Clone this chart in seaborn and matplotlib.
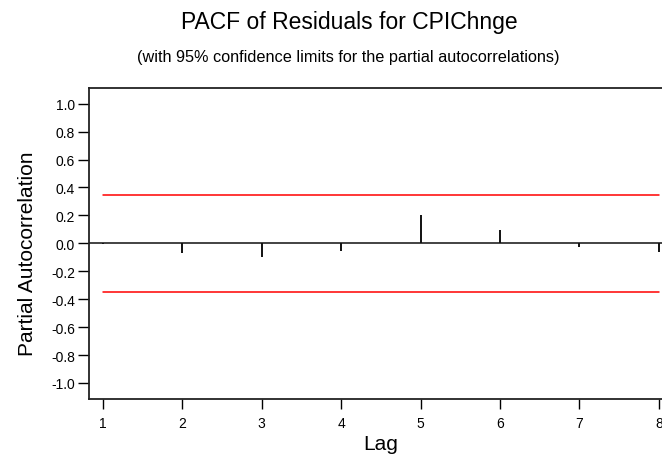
import numpy as np
import pandas as pd
import seaborn as sns
import matplotlib
matplotlib.use("Agg")
import matplotlib.pyplot as plt

# values
lags = [1, 2, 3, 4, 5, 6, 7, 8]
pacf = [-0.008, -0.068, -0.10, -0.053, 0.20, 0.095, -0.03, -0.062]
conf_limit = 0.347
y_ticks = [-1.0, -0.8, -0.6, -0.4, -0.2, 0.0, 0.2, 0.4, 0.6, 0.8, 1.0]

sns.set_style("ticks")
plt.rcParams['font.family'] = ['Liberation Sans', 'DejaVu Sans']
plt.rcParams['axes.unicode_minus'] = False
plt.rcParams['text.color'] = 'black'
plt.rcParams['axes.labelcolor'] = 'black'

fig = plt.figure(figsize=(6.62, 4.6), dpi=100)
ax = fig.add_axes([89 / 662, 60 / 460, 593.6 / 662, 311 / 460])

# confidence limits
limits_df = pd.DataFrame({'Lag': lags * 2,
                          'limit': [conf_limit] * len(lags) + [-conf_limit] * len(lags),
                          'side': ['upper'] * len(lags) + ['lower'] * len(lags)})
sns.lineplot(data=limits_df, x='Lag', y='limit', units='side', estimator=None,
             color='#ff0000', linewidth=1.1, ax=ax, legend=False)

# zero line and partial autocorrelation spikes
ax.axhline(0, color='#222222', linewidth=1.2, zorder=1)
ax.vlines(lags, 0, pacf, color='#111111', linewidth=1.4)

ax.set_xlim(0.824, 8.3)
ax.set_ylim(-1.115, 1.112)
ax.set_xticks(lags)
ax.set_xticklabels([str(l) for l in lags], fontsize=10)
ax.set_yticks(y_ticks)
ax.set_yticklabels([f"{v:.1f}" if abs(v) > 1e-9 else "0.0" for v in y_ticks], fontsize=10)
ax.tick_params(axis='x', length=7, width=1, pad=5, colors='black')
ax.tick_params(axis='y', length=8, width=1, pad=2, colors='black')

for side in ['left', 'top', 'bottom']:
    ax.spines[side].set_visible(True)
    ax.spines[side].set_color('#222222')
    ax.spines[side].set_linewidth(1.3)
ax.spines['right'].set_visible(False)

ax.set_xlabel('Lag', fontsize=15)
ax.xaxis.set_label_coords(0.4917, -0.112)
ax.set_ylabel('Partial Autocorrelation', fontsize=15)
ax.yaxis.set_label_coords(-0.0868, 0.471)

fig.text(349 / 662, (460 - 29) / 460, 'PACF of Residuals for CPIChnge',
         ha='center', va='baseline', fontsize=16.5)
fig.text(348 / 662, (460 - 62) / 460,
         '(with 95% confidence limits for the partial autocorrelations)',
         ha='center', va='baseline', fontsize=11.7)

fig.savefig('out.png', dpi=100)
